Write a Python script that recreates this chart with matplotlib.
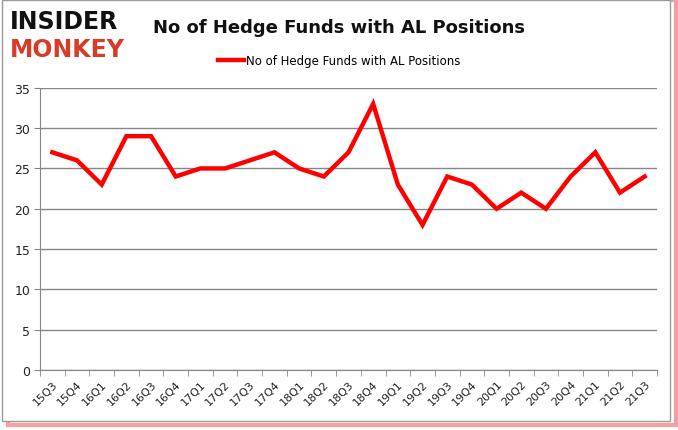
import numpy as np
import matplotlib.pyplot as plt
from matplotlib.patches import Rectangle

quarters = ["15Q3", "15Q4", "16Q1", "16Q2", "16Q3", "16Q4", "17Q1", "17Q2", "17Q3",
            "17Q4", "18Q1", "18Q2", "18Q3", "18Q4", "19Q1", "19Q2", "19Q3", "19Q4",
            "20Q1", "20Q2", "20Q3", "20Q4", "21Q1", "21Q2", "21Q3"]
hedge_funds = [27, 26, 23, 29, 29, 24, 25, 25, 26, 27, 25, 24, 27, 33, 23, 18, 24, 23,
               20, 22, 20, 24, 27, 22, 24]
y_ticks = [0, 5, 10, 15, 20, 25, 30, 35]
series_name = "No of Hedge Funds with AL Positions"

fig = plt.figure(figsize=(6.78, 4.31), dpi=100)

# frame with red shadow (behind everything)
fig.patches.append(Rectangle((0.012, 0.012), 0.985, 0.985, transform=fig.transFigure,
                             fill=False, edgecolor="#f4a0a0", linewidth=3, zorder=-2))
fig.patches.append(Rectangle((0.003, 0.02), 0.985, 0.977, transform=fig.transFigure,
                             facecolor="white", edgecolor="#9a9a9a", linewidth=1, zorder=-1))

ax = fig.add_axes([0.059, 0.139, 0.91, 0.655])
ax.patch.set_alpha(0)

x = np.arange(len(quarters))
line, = ax.plot(x, hedge_funds, color="#ff0000", linewidth=3.2, solid_joinstyle="miter",
                label=series_name)

ax.set_xlim(-0.5, len(quarters) - 0.5)
ax.set_ylim(0, 35)
ax.set_yticks(y_ticks)
ax.set_yticklabels([str(v) for v in y_ticks], fontsize=9, color="#222222")
ax.grid(axis="y", color="#868686", linewidth=1.0)
ax.set_axisbelow(True)

# category labels centred, tick marks between categories (Excel style)
ax.set_xticks(x)
ax.set_xticklabels(quarters, rotation=45, ha="right", rotation_mode="anchor",
                   fontsize=8, color="#222222")
ax.tick_params(axis="x", length=0, pad=6)
ax.set_xticks(np.arange(-0.5, len(quarters)), minor=True)
ax.tick_params(axis="x", which="minor", length=4, color="#868686")
ax.tick_params(axis="y", length=4, color="#868686", pad=3)

for side in ["top", "right"]:
    ax.spines[side].set_visible(False)
ax.spines["left"].set_color("#868686")
ax.spines["bottom"].set_color("#868686")

fig.text(0.5, 0.935, series_name, ha="center", va="center", fontsize=13,
         fontweight="bold", color="#111111")
fig.legend(handles=[line], loc="center", bbox_to_anchor=(0.5, 0.857), frameon=False,
           fontsize=8.5, handlelength=2.2, handletextpad=0.2)

# logo
fig.text(0.014, 0.95, "INSIDER", fontsize=17, fontweight="heavy", color="#111111",
         va="center", ha="left")
fig.text(0.014, 0.885, "MONKEY", fontsize=17, fontweight="heavy", color="#d63c26",
         va="center", ha="left")

fig.savefig("out.png", dpi=100)
